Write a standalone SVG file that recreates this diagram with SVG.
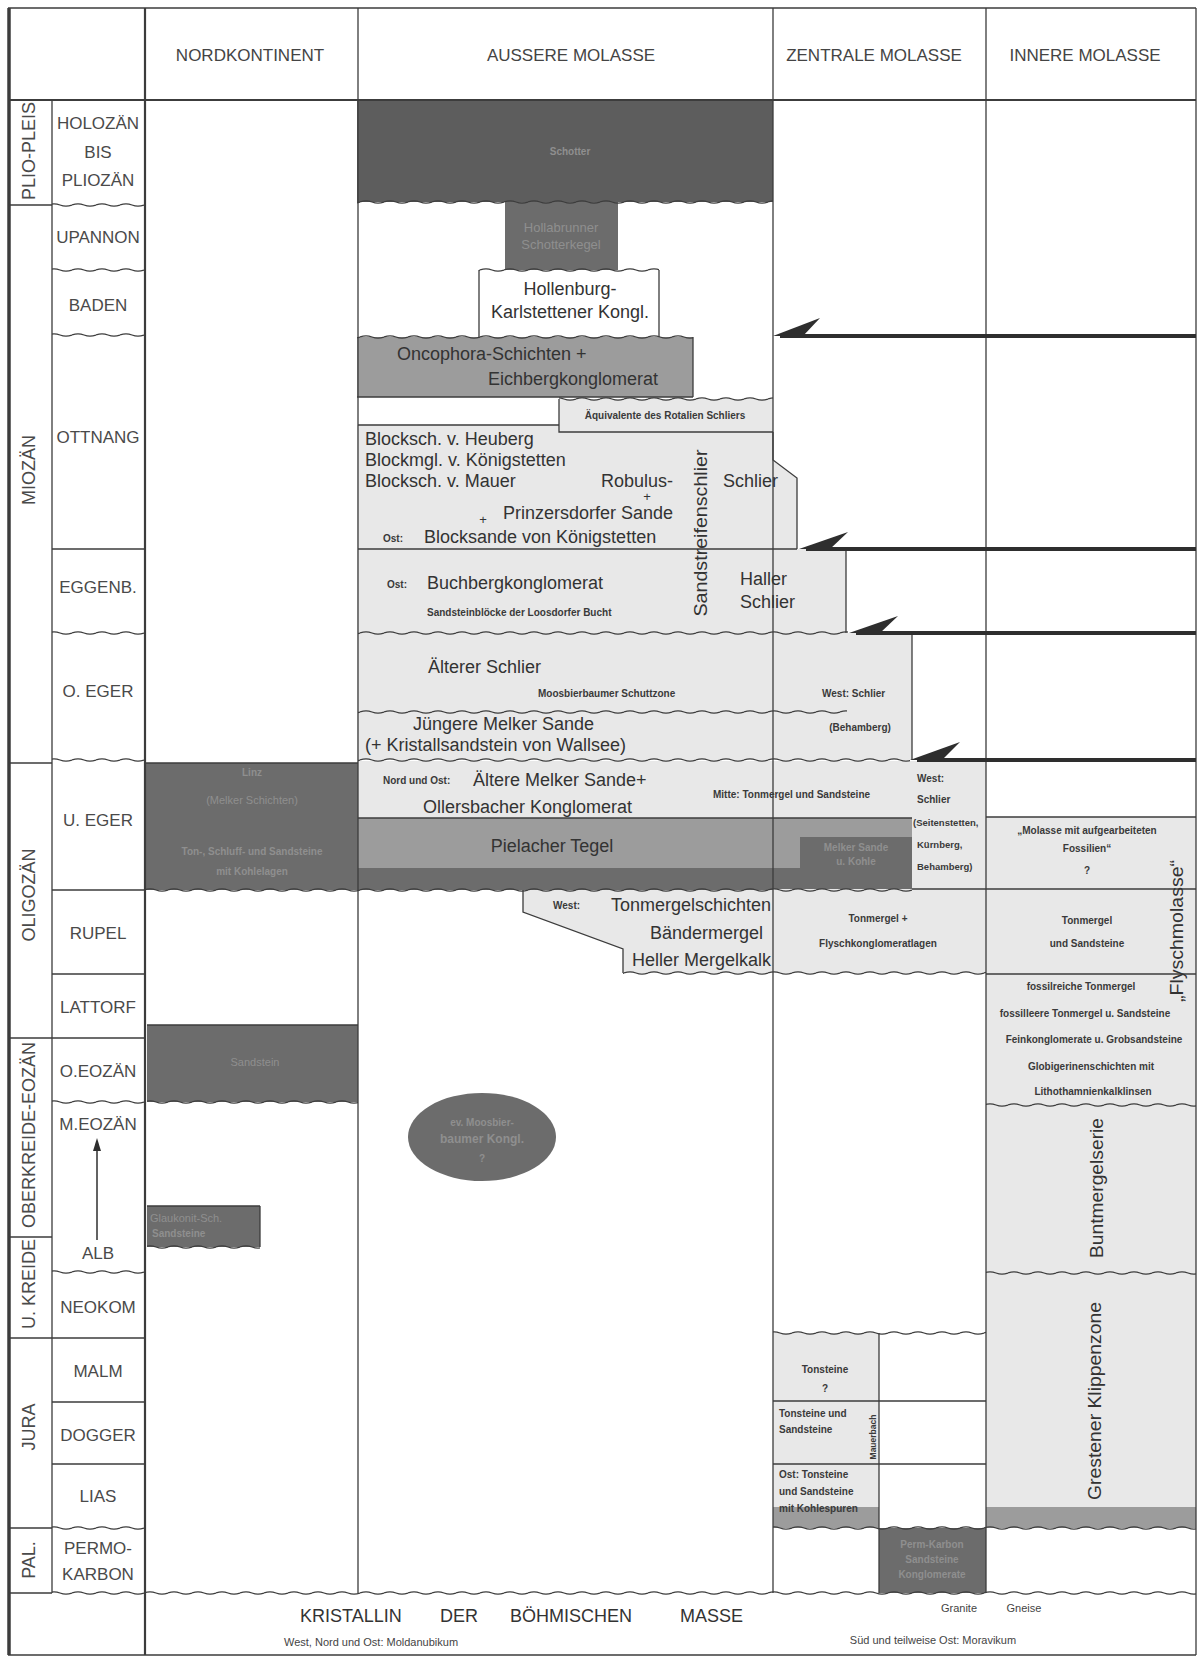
<svg xmlns="http://www.w3.org/2000/svg" width="1203" height="1657" viewBox="0 0 1203 1657">
<defs>
<style>
.ln{fill:none;stroke:#3c3c3c;stroke-width:1.3}
.lg{fill:#e8e8e8}
.mg{fill:#9c9c9c}
.dg{fill:#6c6c6c}
.vd{fill:#5d5d5d}
.wv{fill:url(#wv)}
.ar{fill:none;stroke:#2e2e2e;stroke-width:4}
.ah{fill:#2e2e2e}
text{font-family:"Liberation Sans",Arial,Helvetica,sans-serif;fill:#333}
.h{font-size:17px;text-anchor:middle;fill:#444}
.st{font-size:17px;text-anchor:middle;fill:#4a4a4a}
.er{font-size:18px;text-anchor:middle;fill:#4a4a4a}
.b{font-size:18px}
.p{font-size:13px;text-anchor:middle}
.s{font-size:10px;font-weight:bold;fill:#3a3a3a}
.n{font-size:11px;fill:#444}
.f{fill:#8f8f8f}
.m{text-anchor:middle}
.e{text-anchor:end}
</style>
<pattern id="wv" x="0" y="-4" width="24" height="8" patternUnits="userSpaceOnUse"><path d="M0 4Q6 1.6 12 4T24 4" fill="none" stroke="#3c3c3c" stroke-width="1.2"/></pattern>
</defs>
<rect x="0" y="0" width="1203" height="1657" fill="#fff"/>

<g id="fills">
<rect id="schotter" class="vd" x="357" y="100" width="416" height="102"/>
<rect id="hollabrunn" class="dg" x="505" y="202" width="113" height="68"/>
<rect id="hollenburg" fill="#fff" x="479" y="270" width="180" height="67"/>
<rect id="oncophora" class="mg" x="357" y="337" width="336" height="60"/>
<polygon id="blocksch" class="lg" points="357,425 773,425 773,460 797,478 797,549 357,549"/>
<rect id="aequiv" class="lg" x="559" y="399" width="214" height="33"/>
<rect id="eggenb" class="lg" x="357" y="549" width="489" height="84"/>
<rect id="oeger" class="lg" x="357" y="633" width="555" height="127"/>
<rect id="ueger" class="lg" x="357" y="761" width="629" height="128"/>
<rect class="mg" x="357" y="818" width="555" height="50"/>
<rect class="dg" x="357" y="868" width="555" height="22"/>
<rect class="dg" x="800" y="837" width="112" height="52"/>
<rect id="nk-ueger" class="dg" x="146" y="763" width="212" height="127"/>
<polygon id="rupel-a" class="lg" points="523,890 773,890 773,973 623,973 623,949 523,912"/>
<rect id="rupel-z" class="lg" x="773" y="889" width="213" height="84"/>
<rect id="innere" class="lg" x="986" y="817" width="210" height="690"/>
<rect class="mg" x="986" y="1507" width="210" height="21"/>
<rect id="nk-eoz" class="dg" x="147" y="1025" width="211" height="77"/>
<rect id="nk-kreide" class="dg" x="147" y="1206" width="113" height="41"/>
<ellipse id="moosbier" class="dg" cx="482" cy="1137" rx="74" ry="44"/>
<rect id="jura-z" class="lg" x="773" y="1333" width="106" height="174"/>
<rect class="mg" x="773" y="1507" width="106" height="21"/>
<rect id="permo" class="dg" x="879" y="1528" width="107" height="65"/>
</g>

<g id="grid">
<path class="ln" d="M8 8H1196M1196 8V1655M8 1655H1196M358 8V1593M773 8V1593M986 8V1593M52 100V1593"/>
<path class="ln" style="stroke-width:2.2" d="M8 100H1196M145 8V1655"/>
<path class="ln" style="stroke-width:3.5" d="M9 8V1655"/>
<path class="ln" d="M8 205H52M8 763H52M8 1038H145M8 1237H52M8 1338H145M8 1528H52M8 1593H52M52 549H145M52 890H145M52 974H145M52 1402H145M52 1464H145"/>
<path class="ln" d="M479 270V337M659 270V337M357 397H693M693 337V397M559 399V432H773M358 425H559M773 432V460L797 478V549M358 549H797M846 549V633M912 633V760M358 818H912M986 817H1196M912 889H1196M986 974H1196M523 890V912L623 949V973M145 763H358M147 1025H358M147 1206H260M260 1206V1247M773 1401H986M773 1464H986M879 1333V1593"/>
<rect class="wv" x="52" y="-4" width="93" height="8" transform="translate(0,205)"/>
<rect class="wv" x="52" y="-4" width="93" height="8" transform="translate(0,270)"/>
<rect class="wv" x="52" y="-4" width="93" height="8" transform="translate(0,335)"/>
<rect class="wv" x="52" y="-4" width="93" height="8" transform="translate(0,633)"/>
<rect class="wv" x="52" y="-4" width="93" height="8" transform="translate(0,760)"/>
<rect class="wv" x="52" y="-4" width="93" height="8" transform="translate(0,1102)"/>
<rect class="wv" x="52" y="-4" width="93" height="8" transform="translate(0,1272)"/>
<rect class="wv" x="52" y="-4" width="93" height="8" transform="translate(0,1528)"/>
<rect class="wv" x="52" y="-4" width="1144" height="8" transform="translate(0,1593)"/>
<rect class="wv" x="357" y="-4" width="416" height="8" transform="translate(0,202)"/>
<rect class="wv" x="479" y="-4" width="180" height="8" transform="translate(0,270)"/>
<rect class="wv" x="357" y="-4" width="336" height="8" transform="translate(0,337)"/>
<rect class="wv" x="559" y="-4" width="214" height="8" transform="translate(0,399)"/>
<rect class="wv" x="358" y="-4" width="490" height="8" transform="translate(0,633)"/>
<rect class="wv" x="358" y="-4" width="489" height="8" transform="translate(0,712)"/>
<rect class="wv" x="358" y="-4" width="552" height="8" transform="translate(0,760)"/>
<rect class="wv" x="145" y="-4" width="767" height="8" transform="translate(0,890)"/>
<rect class="wv" x="623" y="-4" width="363" height="8" transform="translate(0,973)"/>
<rect class="wv" x="147" y="-4" width="211" height="8" transform="translate(0,1102)"/>
<rect class="wv" x="147" y="-4" width="113" height="8" transform="translate(0,1247)"/>
<rect class="wv" x="986" y="-4" width="210" height="8" transform="translate(0,1105)"/>
<rect class="wv" x="986" y="-4" width="210" height="8" transform="translate(0,1273)"/>
<rect class="wv" x="773" y="-4" width="213" height="8" transform="translate(0,1333)"/>
<rect class="wv" x="773" y="-4" width="423" height="8" transform="translate(0,1528)"/>
</g>

<g id="headers">
<text class="h" x="250" y="61">NORDKONTINENT</text>
<text class="h" x="571" y="61">AUSSERE MOLASSE</text>
<text class="h" x="874" y="61">ZENTRALE MOLASSE</text>
<text class="h" x="1085" y="61">INNERE MOLASSE</text>
</g>

<g id="eras">
<text class="er" transform="translate(35,151) rotate(-90)">PLIO-PLEIS</text>
<text class="er" transform="translate(35,470) rotate(-90)">MIOZÄN</text>
<text class="er" transform="translate(35,895) rotate(-90)">OLIGOZÄN</text>
<text class="er" transform="translate(35,1135) rotate(-90)">OBERKREIDE-EOZÄN</text>
<text class="er" transform="translate(35,1284) rotate(-90)">U. KREIDE</text>
<text class="er" transform="translate(35,1427) rotate(-90)">JURA</text>
<text class="er" transform="translate(35,1560) rotate(-90)">PAL.</text>
</g>

<g id="stages">
<text class="st" x="98" y="129">HOLOZÄN</text>
<text class="st" x="98" y="158">BIS</text>
<text class="st" x="98" y="186">PLIOZÄN</text>
<text class="st" x="98" y="243">UPANNON</text>
<text class="st" x="98" y="311">BADEN</text>
<text class="st" x="98" y="443">OTTNANG</text>
<text class="st" x="98" y="593">EGGENB.</text>
<text class="st" x="98" y="697">O. EGER</text>
<text class="st" x="98" y="826">U. EGER</text>
<text class="st" x="98" y="939">RUPEL</text>
<text class="st" x="98" y="1013">LATTORF</text>
<text class="st" x="98" y="1077">O.EOZÄN</text>
<text class="st" x="98" y="1130">M.EOZÄN</text>
<text class="st" x="98" y="1259">ALB</text>
<text class="st" x="98" y="1313">NEOKOM</text>
<text class="st" x="98" y="1377">MALM</text>
<text class="st" x="98" y="1441">DOGGER</text>
<text class="st" x="98" y="1502">LIAS</text>
<text class="st" x="98" y="1554">PERMO-</text>
<text class="st" x="98" y="1580">KARBON</text>
</g>

<g id="nordkontinent">
<text class="s f m" x="252" y="776">Linz</text>
<text class="n f m" x="252" y="804">(Melker Schichten)</text>
<text class="s f m" x="252" y="855">Ton-, Schluff- und Sandsteine</text>
<text class="s f m" x="252" y="875">mit Kohlelagen</text>
<text class="n f m" x="255" y="1066">Sandstein</text>
<text class="n f" x="150" y="1222">Glaukonit-Sch.</text>
<text class="s f" x="152" y="1237">Sandsteine</text>
</g>

<g id="aussere">
<text class="s f m" x="570" y="155">Schotter</text>
<text class="n f m" x="561" y="232" style="font-size:13px">Hollabrunner</text>
<text class="n f m" x="561" y="249" style="font-size:13px">Schotterkegel</text>
<text class="b m" x="570" y="295">Hollenburg-</text>
<text class="b m" x="570" y="318">Karlstettener Kongl.</text>
<text class="b" x="397" y="360">Oncophora-Schichten +</text>
<text class="b" x="488" y="385">Eichbergkonglomerat</text>
<text class="s m" x="665" y="419">Äquivalente des Rotalien Schliers</text>
<text class="b" x="365" y="445">Blocksch. v. Heuberg</text>
<text class="b" x="365" y="466">Blockmgl. v. Königstetten</text>
<text class="b" x="365" y="487">Blocksch. v. Mauer</text>
<text class="b e" x="673" y="487">Robulus-</text>
<text class="p" x="647" y="501">+</text>
<text class="b e" x="673" y="519">Prinzersdorfer Sande</text>
<text class="p" x="483" y="524">+</text>
<text class="s" x="383" y="542">Ost:</text>
<text class="b" x="424" y="543">Blocksande von Königstetten</text>
<text class="b" x="723" y="487">Schlier</text>
<text class="b m" transform="translate(707,533) rotate(-90)" textLength="167" lengthAdjust="spacingAndGlyphs">Sandstreifenschlier</text>
<text class="s" x="387" y="588">Ost:</text>
<text class="b" x="427" y="589">Buchbergkonglomerat</text>
<text class="s" x="427" y="616">Sandsteinblöcke der Loosdorfer Bucht</text>
<text class="b" x="740" y="585">Haller</text>
<text class="b" x="740" y="608">Schlier</text>
<text class="b" x="428" y="673">Älterer Schlier</text>
<text class="s" x="538" y="697">Moosbierbaumer Schuttzone</text>
<text class="s" x="822" y="697">West: Schlier</text>
<text class="b" x="413" y="730">Jüngere Melker Sande</text>
<text class="b" x="365" y="751">(+ Kristallsandstein von Wallsee)</text>
<text class="s m" x="860" y="731">(Behamberg)</text>
<text class="s" x="383" y="784">Nord und Ost:</text>
<text class="b" x="473" y="786">Ältere Melker Sande+</text>
<text class="b" x="423" y="813">Ollersbacher Konglomerat</text>
<text class="s" x="713" y="798">Mitte: Tonmergel und Sandsteine</text>
<text class="b m" x="552" y="852">Pielacher Tegel</text>
<text class="s f m" x="856" y="851">Melker Sande</text>
<text class="s f m" x="856" y="865">u. Kohle</text>
<text class="s" x="553" y="909">West:</text>
<text class="b e" x="771" y="911">Tonmergelschichten</text>
<text class="b e" x="763" y="939">Bändermergel</text>
<text class="b e" x="771" y="966">Heller Mergelkalk</text>
<text class="s f m" x="482" y="1126">ev. Moosbier-</text>
<text class="s f m" x="482" y="1143" style="font-size:12px">baumer Kongl.</text>
<text class="s f m" x="482" y="1162">?</text>
</g>

<g id="zentrale">
<text class="s" x="917" y="782">West:</text>
<text class="s" x="917" y="803">Schlier</text>
<text class="s" x="913" y="826" style="font-size:9.5px">(Seitenstetten,</text>
<text class="s" x="917" y="848" style="font-size:9.5px">Kürnberg,</text>
<text class="s" x="917" y="870" style="font-size:9.5px">Behamberg)</text>
<text class="s m" x="878" y="922">Tonmergel +</text>
<text class="s m" x="878" y="947">Flyschkonglomeratlagen</text>
<text class="s m" x="825" y="1373">Tonsteine</text>
<text class="s m" x="825" y="1392">?</text>
<text class="s" x="779" y="1417">Tonsteine und</text>
<text class="s" x="779" y="1433">Sandsteine</text>
<text class="s m" transform="translate(876,1437) rotate(-90)" style="font-size:8.5px">Mauerbach</text>
<text class="s" x="779" y="1478">Ost: Tonsteine</text>
<text class="s" x="779" y="1495">und Sandsteine</text>
<text class="s" x="779" y="1512">mit Kohlespuren</text>
<text class="s f m" x="932" y="1548">Perm-Karbon</text>
<text class="s f m" x="932" y="1563">Sandsteine</text>
<text class="s f m" x="932" y="1578">Konglomerate</text>
</g>

<g id="innere">
<text class="s m" x="1087" y="834">„Molasse mit aufgearbeiteten</text>
<text class="s m" x="1087" y="852">Fossilien“</text>
<text class="s m" x="1087" y="874">?</text>
<text class="s m" x="1087" y="924">Tonmergel</text>
<text class="s m" x="1087" y="947">und Sandsteine</text>
<text class="s m" x="1081" y="990">fossilreiche Tonmergel</text>
<text class="s m" x="1085" y="1017">fossilleere Tonmergel u. Sandsteine</text>
<text class="s m" x="1094" y="1043">Feinkonglomerate u. Grobsandsteine</text>
<text class="s m" x="1091" y="1070">Globigerinenschichten mit</text>
<text class="s m" x="1093" y="1095">Lithothamnienkalklinsen</text>
<text class="b m" transform="translate(1183,931) rotate(-90)" textLength="142" lengthAdjust="spacingAndGlyphs">„Flyschmolasse“</text>
<text class="b m" transform="translate(1103,1188) rotate(-90)" textLength="140" lengthAdjust="spacingAndGlyphs">Buntmergelserie</text>
<text class="b m" transform="translate(1101,1401) rotate(-90)" textLength="198" lengthAdjust="spacingAndGlyphs">Grestener Klippenzone</text>
</g>

<g id="basement">
<text class="b" x="300" y="1622" fill="#444">KRISTALLIN</text>
<text class="b" x="440" y="1622" fill="#444">DER</text>
<text class="b" x="510" y="1622" fill="#444">BÖHMISCHEN</text>
<text class="b" x="680" y="1622" fill="#444">MASSE</text>
<text class="n" x="284" y="1646">West, Nord und Ost: Moldanubikum</text>
<text class="n m" x="959" y="1612">Granite</text>
<text class="n m" x="1024" y="1612">Gneise</text>
<text class="n m" x="933" y="1644">Süd und teilweise Ost: Moravikum</text>
</g>

<g id="connectors">
<path class="ar" d="M1196 336H780"/>
<polygon class="ah" points="773,336 820,318 803,336"/>
<path class="ar" d="M1196 549H806"/>
<polygon class="ah" points="799,549 848,532 830,549"/>
<path class="ar" d="M1196 633H856"/>
<polygon class="ah" points="849,633 898,616 880,633"/>
<path class="ar" d="M1196 760H917"/>
<polygon class="ah" points="910,760 960,742 942,760"/>
<path class="ln" style="stroke-width:1.6" d="M97 1240V1148"/>
<polygon class="ah" points="97,1138 93,1151 101,1151"/>
</g>
</svg>
